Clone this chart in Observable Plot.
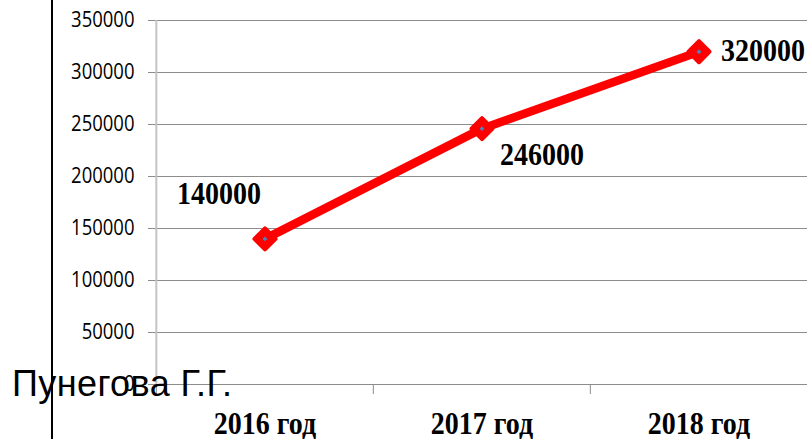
<!DOCTYPE html>
<html>
<head>
<meta charset="utf-8">
<script src="https://cdn.jsdelivr.net/npm/d3@7"></script>
<script src="https://cdn.jsdelivr.net/npm/@observablehq/plot@0.6"></script>
<style>
  html, body { margin: 0; padding: 0; background: #fff; }
  #wrap { position: relative; width: 807px; height: 439px; overflow: hidden; }
  #vline { position: absolute; left: 51px; top: 0; width: 2px; height: 439px; background: #000; }
  #author { position: absolute; left: 12px; top: 366px; font-family: "Liberation Sans", Arial, sans-serif; font-size: 36px; letter-spacing: 0.4px; color: #000; line-height: 1; white-space: nowrap; }
</style>
</head>
<body>
<div id="wrap">
  <div id="chart"></div>
  <div id="vline"></div>
  <div id="author">Пунегова Г.Г.</div>
</div>
<script>
const years = ["2016 год", "2017 год", "2018 год"];
const values = [140000, 246000, 320000];
const yTicks = [0, 50000, 100000, 150000, 200000, 250000, 300000, 350000];

const data = years.map((year, i) => ({ year, value: values[i] }));

const W = 807, H = 439, ML = 155, MR = 0, MT = 20, MB = 55;
const bw = (W - ML - MR) / years.length;

const serif = "'Liberation Serif', 'Times New Roman', serif";

const plot = Plot.plot({
  width: W,
  height: H,
  marginLeft: ML,
  marginRight: MR,
  marginTop: MT,
  marginBottom: MB,
  style: { background: "transparent", overflow: "visible" },
  x: { type: "band", domain: years, padding: 0 },
  y: { domain: [0, 350000] },
  marks: [
    Plot.gridY(yTicks, { stroke: "#8c8c8c", strokeOpacity: 1, strokeWidth: 1 }),
    Plot.ruleX([years[0]], { dx: -bw / 2, stroke: "#c4c4c4", strokeWidth: 2 }),
    Plot.axisY({
      ticks: yTicks, tickSize: 7, tickPadding: 14,
      tickFormat: d => String(d),
      stroke: "#8c8c8c", fill: "#000",
      fontSize: 18.5, fontWeight: 500, fontFamily: "'Open Sans', sans-serif",
      label: null
    }),
    Plot.axisX({ tickSize: 10, text: null, dx: -bw / 2, stroke: "#8c8c8c", label: null }),
    Plot.axisX({ ticks: [years[2]], tickSize: 10, text: null, dx: bw / 2, stroke: "#8c8c8c", label: null }),
    Plot.axisX({
      tickSize: 0, tickPadding: 27, fill: "#000",
      fontSize: 28, fontWeight: "bold", fontFamily: serif,
      label: null
    }),
    Plot.line(data, { x: "year", y: "value", stroke: "#ff0000", strokeWidth: 8.5, strokeLinejoin: "round" }),
    Plot.dot(data, { x: "year", y: "value", symbol: "diamond2", r: 9.5, fill: "#ff0000", stroke: "#ff0000", strokeWidth: 4, strokeLinejoin: "round" }),
    Plot.dot(data, { x: "year", y: "value", symbol: "diamond2", r: 2.2, fill: "#4f81bd", stroke: "none" }),
    Plot.text(data.filter((d, i) => i === 0), { x: "year", y: "value", text: d => String(d.value), dx: -46, dy: -45, fontSize: 28, fontWeight: "bold", fontFamily: serif, fill: "#000" }),
    Plot.text(data.filter((d, i) => i === 1), { x: "year", y: "value", text: d => String(d.value), dx: 60, dy: 26, fontSize: 28, fontWeight: "bold", fontFamily: serif, fill: "#000" }),
    Plot.text(data.filter((d, i) => i === 2), { x: "year", y: "value", text: d => String(d.value), dx: 64, dy: -1, fontSize: 28, fontWeight: "bold", fontFamily: serif, fill: "#000" })
  ]
});

document.getElementById("chart").appendChild(plot);
// vertical stretch of texts about their anchor point, as in the reference
plot.querySelectorAll("text").forEach(t => {
  const tr = t.getAttribute("transform") || "";
  t.setAttribute("transform", `${tr} scale(1,1.15)`);
});
</script>
</body>
</html>
